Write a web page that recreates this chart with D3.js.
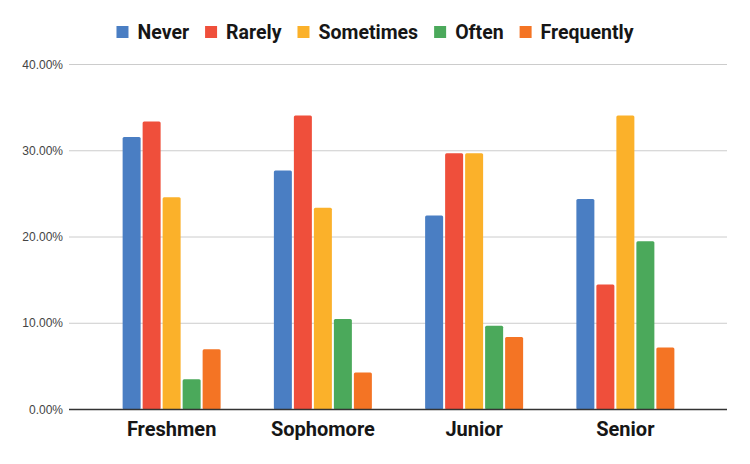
<!DOCTYPE html>
<html>
<head>
<meta charset="utf-8">
<script src="https://cdn.jsdelivr.net/npm/d3@7"></script>
<style>
  body { margin: 0; background: #fff; }
</style>
</head>
<body>
<script>
var w = 750;
var h = 464;

var categories = ['Freshmen', 'Sophomore', 'Junior', 'Senior'];
var series = ['Never', 'Rarely', 'Sometimes', 'Often', 'Frequently'];
var colors = ['#4a7ec3', '#ef4f3b', '#fbb12a', '#4ba95b', '#f47424'];
// percent values per category, in series order
var never = [31.6, 27.7, 22.5, 24.4];
var rarely = [33.4, 34.1, 29.7, 14.5];
var sometimes = [24.6, 23.4, 29.7, 34.1];
var often = [3.5, 10.5, 9.7, 19.5];
var frequently = [7.0, 4.3, 8.4, 7.2];
var yTicks = [0, 10, 20, 30, 40];

var values = [never, rarely, sometimes, often, frequently];

var svg = d3.select('body').append('svg').attr('width', w).attr('height', h);

var x0 = d3.scaleBand().domain(categories).range([96, 701]);
var x1 = d3.scaleBand().domain(series).range([-49, 49]).paddingInner(0.1);
var y = d3.scaleLinear().domain([0, 40]).range([409.5, 64.5]);

// gridlines
svg.selectAll('line.grid')
  .data(yTicks.filter(function(d) { return d > 0; }))
  .enter()
  .append('line')
  .attr('class', 'grid')
  .attr('x1', 69).attr('x2', 727)
  .attr('y1', function(d) { return y(d); })
  .attr('y2', function(d) { return y(d); })
  .attr('stroke', '#cccccc')
  .attr('stroke-width', 1);

// y labels
svg.selectAll('text.ylab')
  .data(yTicks)
  .enter()
  .append('text')
  .attr('class', 'ylab')
  .attr('x', 63)
  .attr('y', function(d) { return y(d); })
  .attr('dy', '0.35em')
  .attr('text-anchor', 'end')
  .attr('font-family', 'Liberation Sans, Arial, sans-serif')
  .attr('font-size', 12)
  .attr('fill', '#444444')
  .text(function(d) { return d.toFixed(2) + '%'; });

// bars
var groups = svg.selectAll('g.cat')
  .data(categories)
  .enter()
  .append('g')
  .attr('class', 'cat')
  .attr('transform', function(d) { return 'translate(' + (x0(d) + x0.bandwidth() / 2) + ',0)'; });

groups.selectAll('rect')
  .data(function(d, i) {
    return series.map(function(s, j) { return {s: s, v: values[j][i], c: colors[j]}; });
  })
  .enter()
  .append('rect')
  .attr('x', function(d) { return x1(d.s); })
  .attr('width', x1.bandwidth())
  .attr('y', function(d) { return y(d.v); })
  .attr('height', function(d) { return y(0) - y(d.v); })
  .attr('rx', 1.5)
  .attr('fill', function(d) { return d.c; });

// baseline
svg.append('line')
  .attr('x1', 69).attr('x2', 727)
  .attr('y1', y(0)).attr('y2', y(0))
  .attr('stroke', '#333333')
  .attr('stroke-width', 1.3);

// x labels
svg.selectAll('text.xlab')
  .data(categories)
  .enter()
  .append('text')
  .attr('class', 'xlab')
  .attr('x', function(d) { return x0(d) + x0.bandwidth() / 2; })
  .attr('y', 436)
  .attr('text-anchor', 'middle')
  .attr('font-family', 'Roboto, sans-serif')
  .attr('font-weight', 'bold')
  .attr('font-size', 20)
  .attr('fill', '#161616')
  .text(function(d) { return d; });

// legend
var legend = svg.append('g');
var lx = 0;
series.forEach(function(s, i) {
  legend.append('rect')
    .attr('x', lx).attr('y', -6)
    .attr('width', 12).attr('height', 12)
    .attr('fill', colors[i]);
  var t = legend.append('text')
    .attr('x', lx + 21)
    .attr('y', 0)
    .attr('dy', '0.35em')
    .attr('font-family', 'Roboto, sans-serif')
    .attr('font-weight', 'bold')
    .attr('font-size', 19.5)
    .attr('fill', '#161616')
    .text(s);
  lx += 21 + t.node().getComputedTextLength() + 16;
});
lx -= 16;
legend.attr('transform', 'translate(' + (w / 2 - lx / 2) + ',32)');
</script>
</body>
</html>
